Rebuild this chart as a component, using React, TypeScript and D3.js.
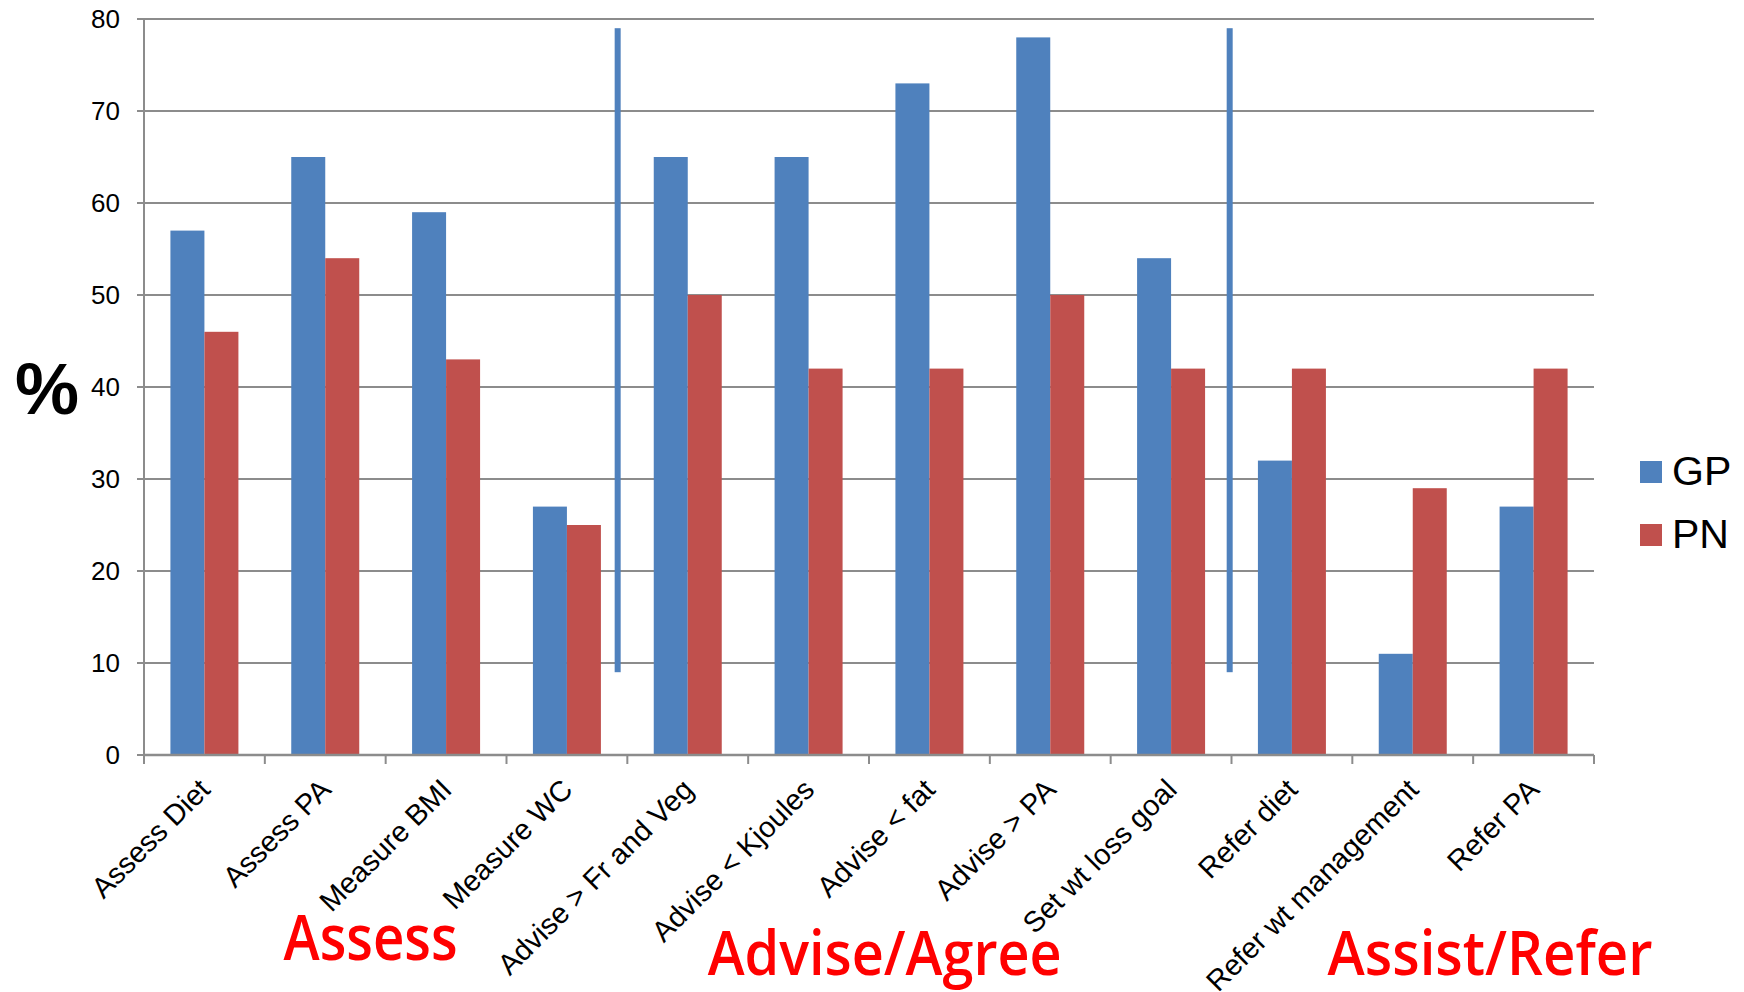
import React from "react";
import * as d3 from "d3";

const categories = [
  "Assess Diet",
  "Assess PA",
  "Measure BMI",
  "Measure WC",
  "Advise > Fr and Veg",
  "Advise < Kjoules",
  "Advise < fat",
  "Advise > PA",
  "Set wt loss goal",
  "Refer diet",
  "Refer wt management",
  "Refer PA",
];
const seriesNames = ["GP", "PN"];
const gpValues = [57, 65, 59, 27, 65, 65, 73, 78, 54, 32, 11, 27];
const pnValues = [46, 54, 43, 25, 50, 42, 42, 50, 42, 42, 29, 42];
const yTicks = [0, 10, 20, 30, 40, 50, 60, 70, 80];
const stageLabels = ["Assess", "Advise/Agree", "Assist/Refer"];
const separatorAfter = [4, 9];
const separatorRange = [9, 79];

const W = 1744;
const H = 992;
const colors = ["#4F81BD", "#C0504D"];
const gridColor = "#8C8C8C";

export default function App() {
  const left = 144;
  const right = 1594;
  const top = 19;
  const bottom = 755;

  const x0 = d3.scaleBand<string>().domain(categories).range([left, right]).padding(0);
  const x1 = d3
    .scaleBand<string>()
    .domain(seriesNames)
    .range([0, x0.bandwidth()])
    .paddingInner(0)
    .paddingOuter(0.777);
  const y = d3.scaleLinear().domain([0, 80]).range([bottom, top]);
  const step = x0.step();

  const data = [gpValues, pnValues];

  const stagePos = [
    { c: 1.875, w: 174, base: 960, fs: 64 },
    { c: 6.13, w: 354, base: 975, fs: 62 },
    { c: 11.14, w: 325, base: 975, fs: 62 },
  ];
  const sepOffsets = [-0.08, -0.015];

  return (
    <svg width={W} height={H} style={{ position: "absolute", left: 0, top: 0, background: "#fff" }}>
      {yTicks.map((t) => (
        <g key={t}>
          {t > 0 && (
            <line x1={left - 7} x2={right} y1={y(t)} y2={y(t)} stroke={gridColor} strokeWidth={2} />
          )}
          {t === 0 && <line x1={left - 7} x2={left} y1={y(t)} y2={y(t)} stroke={gridColor} strokeWidth={2} />}
          <text
            x={left - 24}
            y={y(t)}
            dy="0.35em"
            textAnchor="end"
            fontFamily="'Liberation Sans', Arial, sans-serif"
            fontSize={26}
            fill="#000"
          >
            {t}
          </text>
        </g>
      ))}

      {categories.map((c, i) => (
        <g key={c} transform={`translate(${x0(c)},0)`}>
          {seriesNames.map((s, k) => (
            <rect
              key={s}
              x={x1(s)}
              y={y(data[k][i])}
              width={x1.bandwidth()}
              height={y(0) - y(data[k][i])}
              fill={colors[k]}
            />
          ))}
        </g>
      ))}

      <line x1={left} x2={left} y1={top} y2={bottom} stroke={gridColor} strokeWidth={2} />
      <line x1={left} x2={right} y1={bottom} y2={bottom} stroke={gridColor} strokeWidth={2.5} />
      {d3.range(categories.length + 1).map((i) => (
        <line
          key={i}
          x1={left + i * step}
          x2={left + i * step}
          y1={bottom}
          y2={bottom + 9}
          stroke={gridColor}
          strokeWidth={2}
        />
      ))}

      {categories.map((c) => {
        const cx = (x0(c) as number) + step / 2;
        return (
          <text
            key={c}
            transform={`translate(${cx - 7},${bottom + 22}) rotate(-45)`}
            textAnchor="end"
            dy="0.7em"
            fontFamily="'Liberation Sans', Arial, sans-serif"
            fontSize={29}
            fill="#000"
          >
            {c}
          </text>
        );
      })}

      {separatorAfter.map((b, i) => {
        const xc = left + (b + sepOffsets[i]) * step;
        return (
          <rect
            key={b}
            x={xc - 3}
            y={y(separatorRange[1])}
            width={6}
            height={y(separatorRange[0]) - y(separatorRange[1])}
            fill={colors[0]}
          />
        );
      })}

      <text
        x={47}
        y={414}
        textAnchor="middle"
        fontFamily="'Liberation Sans', Arial, sans-serif"
        fontWeight="bold"
        fontSize={72}
        fill="#000"
      >
        %
      </text>

      {seriesNames.map((s, k) => (
        <g key={s}>
          <rect x={1640} y={461 + k * 63} width={22} height={22} fill={colors[k]} />
          <text
            x={1672}
            y={485 + k * 63}
            fontFamily="'Liberation Sans', Arial, sans-serif"
            fontSize={41}
            fill="#000"
          >
            {s}
          </text>
        </g>
      ))}

      {stageLabels.map((s, i) => {
        const p = stagePos[i];
        const cx = left + p.c * step;
        return (
          <text
            key={s}
            x={cx - p.w / 2}
            y={p.base}
            textLength={p.w}
            lengthAdjust="spacingAndGlyphs"
            fontFamily="'Open Sans', 'Noto Sans', sans-serif"
            fontWeight={600}
            fontSize={p.fs}
            fill="#FF0000"
          >
            {s}
          </text>
        );
      })}
    </svg>
  );
}
